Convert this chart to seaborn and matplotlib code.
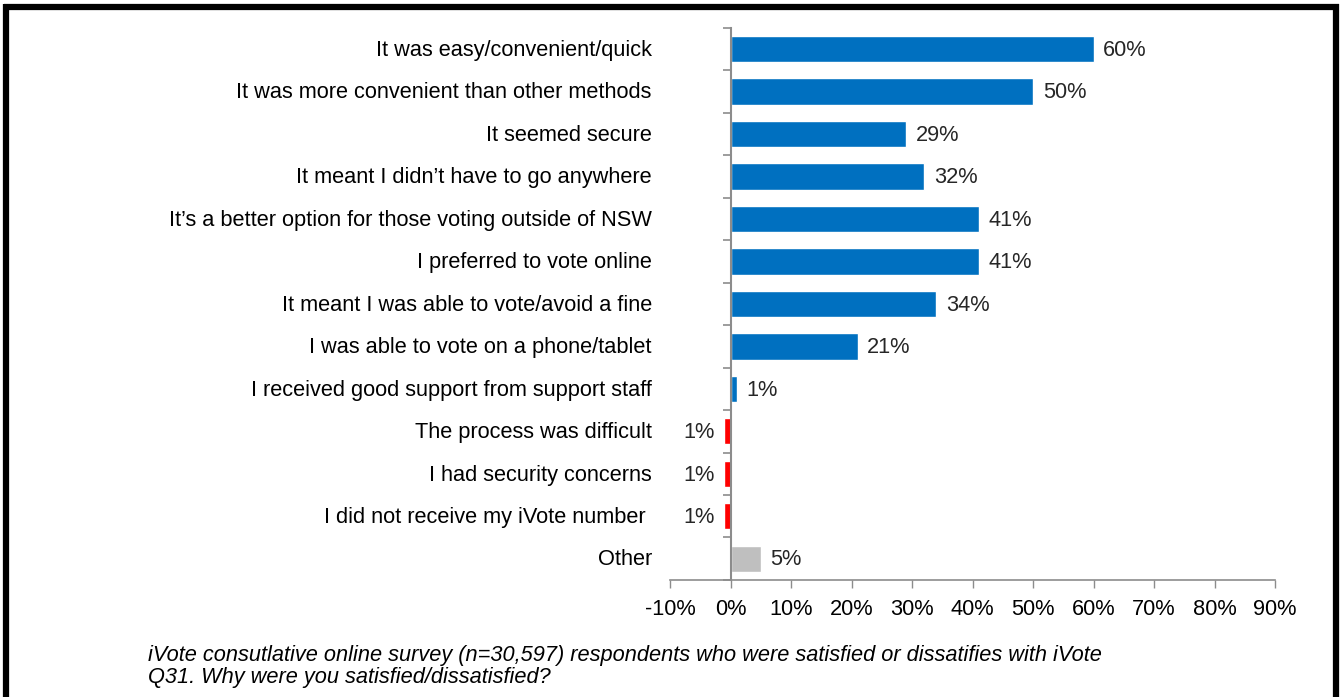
import matplotlib
matplotlib.use("Agg")
import matplotlib.pyplot as plt
from matplotlib.ticker import FixedLocator
import seaborn as sns
import pandas as pd
import numpy as np

sns.set_style("white")
plt.rcParams["font.family"] = ["Liberation Sans", "DejaVu Sans"]

reasons = [
    "It was easy/convenient/quick",
    "It was more convenient than other methods",
    "It seemed secure",
    "It meant I didn\u2019t have to go anywhere",
    "It\u2019s a better option for those voting outside of NSW",
    "I preferred to vote online",
    "It meant I was able to vote/avoid a fine",
    "I was able to vote on a phone/tablet",
    "I received good support from support staff",
    "The process was difficult",
    "I had security concerns",
    "I did not receive my iVote number ",
    "Other",
]
values = [60, 50, 29, 32, 41, 41, 34, 21, 1, -1, -1, -1, 5]
groups = ["satisfied"] * 9 + ["dissatisfied"] * 3 + ["other"]
palette = {"satisfied": "#0070C0", "dissatisfied": "#FF0000", "other": "#BFBFBF"}
x_ticks = list(range(-10, 91, 10))

df = pd.DataFrame({"reason": reasons, "value": values, "group": groups})

FS = 15.7
AXIS_GREY = "#8C8C8C"

fig = plt.figure(figsize=(13.4, 6.97), dpi=100)
ax = fig.add_axes([0.5, 0.168, 0.4515, 0.792])

sns.barplot(data=df, y="reason", x="value", hue="group", palette=palette,
            order=reasons, dodge=False, width=0.62, legend=False,
            saturation=1, ax=ax)

ax.set_xlim(-10, 90)
ax.set_ylim(len(reasons) - 0.5, -0.5)
ax.set_xlabel("")
ax.set_ylabel("")
ax.xaxis.set_major_locator(FixedLocator(x_ticks))
ax.set_xticklabels([f"{t}%" for t in x_ticks], fontsize=FS, color="black")
ax.tick_params(axis="x", bottom=True, length=6, width=1, color=AXIS_GREY, pad=8)

# category axis sits at zero, ticks at category boundaries
ax.set_yticks([])
ax.set_yticks(np.arange(-0.5, len(reasons), 1), minor=True)
ax.tick_params(axis="y", which="minor", left=True, length=6, width=1.2,
               color=AXIS_GREY)
ax.spines["left"].set_position(("data", 0))
ax.spines["left"].set_color(AXIS_GREY)
ax.spines["left"].set_linewidth(1.5)
ax.spines["left"].set_zorder(3)
for s in ["top", "right"]:
    ax.spines[s].set_visible(False)
ax.spines["bottom"].set_color(AXIS_GREY)
ax.spines["bottom"].set_linewidth(1.2)

for i, r in enumerate(reasons):
    ax.text(-13.0, i + 0.03, r, ha="right", va="center", fontsize=FS,
            color="black", clip_on=False)

for i, v in enumerate(values):
    label = f"{abs(v)}%"
    if v >= 0:
        ax.text(v + 1.6, i + 0.03, label, ha="left", va="center", fontsize=FS)
    else:
        ax.text(v - 1.6, i + 0.03, label, ha="right", va="center", fontsize=FS)

fig.text(148 / 1340, 1 - 655 / 697,
         "iVote consutlative online survey (n=30,597) respondents who were satisfied or dissatifies with iVote",
         fontsize=FS, style="italic", ha="left", va="center", color="black")
fig.text(148 / 1340, 1 - 677 / 697,
         "Q31. Why were you satisfied/dissatisfied?",
         fontsize=FS, style="italic", ha="left", va="center", color="black")

# frame around the figure (open at the bottom)
for xs, ys in [([6.3, 6.3], [697, 4]), ([3.5, 1338.5], [6.5, 6.5]),
               ([1336.3, 1336.3], [697, 4])]:
    fig.add_artist(plt.Line2D([x / 1340 for x in xs], [1 - y / 697 for y in ys],
                              transform=fig.transFigure, color="black", lw=4.5,
                              solid_capstyle="butt"))

fig.savefig("out.png", dpi=100)
